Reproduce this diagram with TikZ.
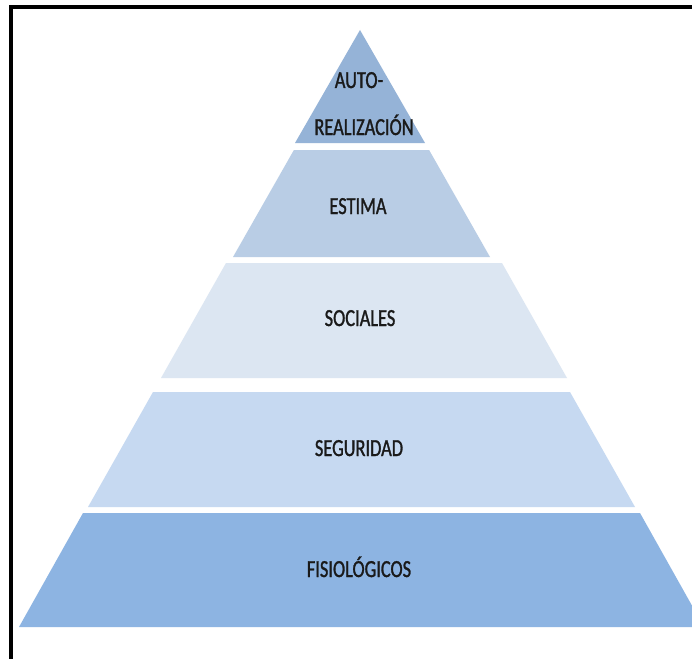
\documentclass[tikz,border=0pt]{standalone}
\usepackage{fontspec}
\newfontfamily\lblfont[FakeStretch=0.75,FakeBold=1.2]{Carlito}
\definecolor{lay1}{HTML}{95B3D7}
\definecolor{lay2}{HTML}{B9CDE5}
\definecolor{lay3}{HTML}{DCE6F2}
\definecolor{lay4}{HTML}{C6D9F1}
\definecolor{lay5}{HTML}{8DB4E2}
\definecolor{txt}{HTML}{1A1A1A}
\begin{document}
\begin{tikzpicture}[x=1pt,y=-1pt,
  lbl/.style={anchor=base,inner sep=0pt,text=txt,font=\lblfont\fontsize{24.5}{28}\selectfont}]
\useasboundingbox (0,0) rectangle (692,658);
\clip (0,0) rectangle (692,658);
\fill[white] (0,0) rectangle (692,658);
% frame
\draw[line width=4.2pt] (11,7) rectangle (720,690);
% layers
\fill[lay1] (360,30) -- (425,143) -- (295,143) -- cycle;
\fill[lay2] (293.9,150) -- (429.1,150) -- (490,257) -- (233,257) -- cycle;
\fill[lay3] (226,263) -- (502,263) -- (567,378) -- (161,378) -- cycle;
\fill[lay4] (153,392) -- (570,392) -- (635,507) -- (88,507) -- cycle;
\fill[lay5] (83,513) -- (640,513) -- (704,627) -- (19,627) -- cycle;
% labels
\node[lbl] (auto) at (359,88) {AUTO-};
\node[lbl] (real) at (364,135) {REALIZACIÓN};
\node[lbl] (estima) at (358,214) {ESTIMA};
\node[lbl] (sociales) at (360,326) {SOCIALES};
\node[lbl] (seguridad) at (359,456) {SEGURIDAD};
\node[lbl] (fisio) at (359,577) {FISIOLÓGICOS};
\end{tikzpicture}
\end{document}
